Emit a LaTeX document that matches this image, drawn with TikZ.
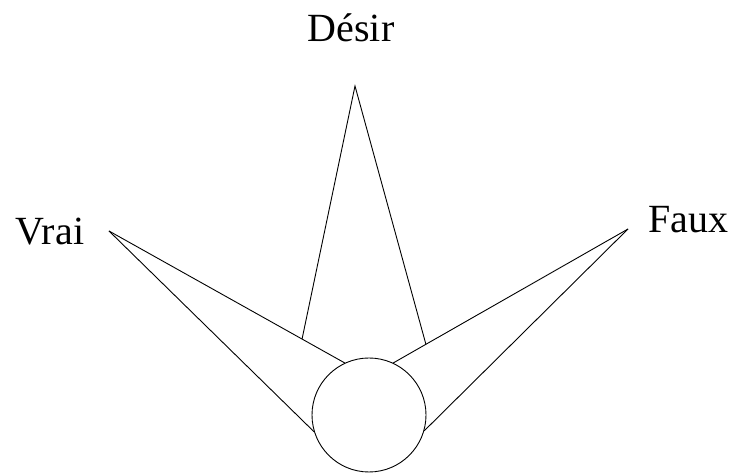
\documentclass[tikz,border=0pt]{standalone}
\usepackage{fontspec}
\setmainfont{Liberation Serif}
\usetikzlibrary{calc}

\tikzset{
  word/.style={inner sep=0pt, font=\fontsize{40}{40}\selectfont},
  soul/.style={circle, draw, minimum size=114pt, inner sep=0pt}
}

\begin{document}
\begin{tikzpicture}[x=1pt, y=1pt, line width=0.9pt]
  \useasboundingbox (0,0) rectangle (742,473);

  \node[soul] (c) at (369,58) {};

  \coordinate (vrai) at (109,242);
  \coordinate (faux) at (628,244);
  \coordinate (desir) at (355,387);

  \node[word, anchor=base] (tdesir) at (351,431) {Désir};
  \node[word, anchor=base west] (tvrai) at (15,228) {Vrai};
  \node[word, anchor=base west] (tfaux) at (648,240) {Faux};

  % the two side spikes
  \draw (vrai) -- (c.115);
  \draw (vrai) -- (c.197);
  \draw (faux) -- (c.65);
  \draw (faux) -- (c.344);

  % the top spike rests on them
  \coordinate (dl) at ($(vrai)!0.819!(c.115)$);
  \coordinate (dr) at ($(faux)!0.861!(c.65)$);
  \draw (dl) -- (desir) -- (dr);

\end{tikzpicture}
\end{document}
